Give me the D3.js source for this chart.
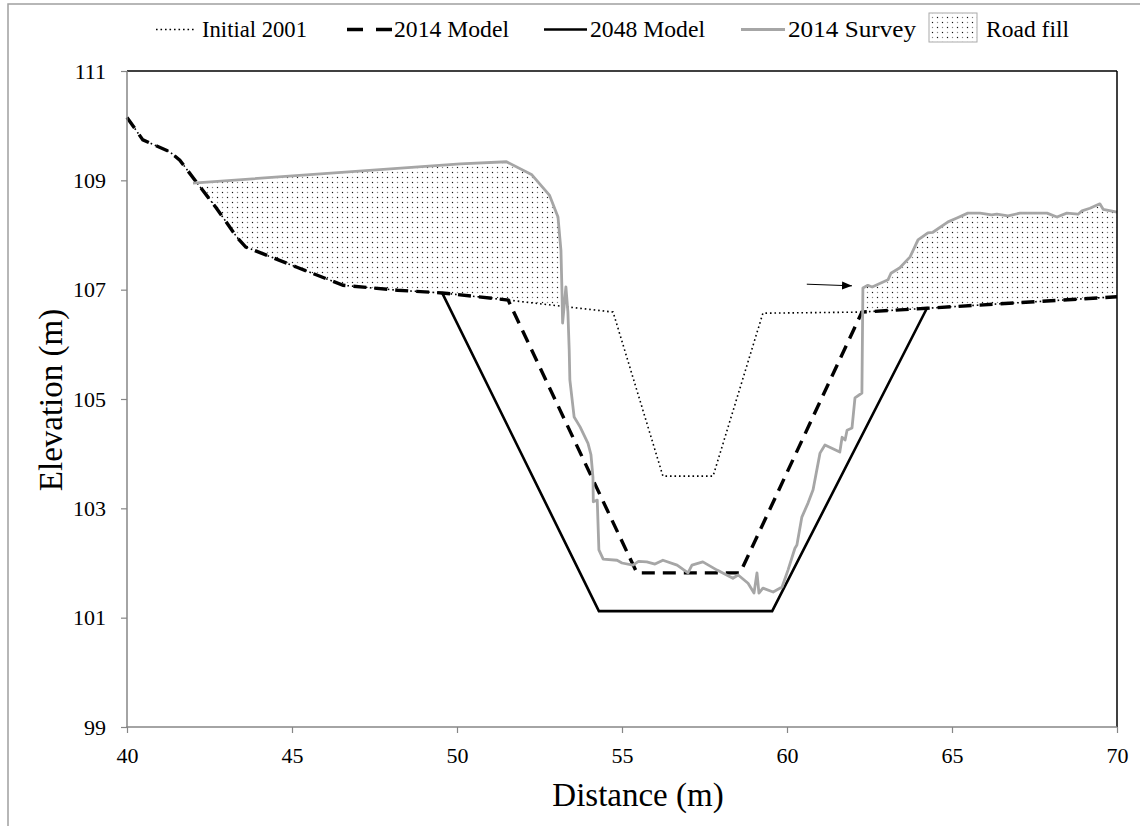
<!DOCTYPE html>
<html><head><meta charset="utf-8">
<script src="https://cdn.jsdelivr.net/npm/d3@7"></script>
<style>html,body{margin:0;padding:0;background:#fff}svg{display:block}</style>
</head><body>
<svg id="c" width="1140" height="826"></svg>
<script>
// ---------- data ----------
const xTicks = [40,45,50,55,60,65,70];
const yTicks = [99,101,103,105,107,109,111];
const legendLabels = ["Initial 2001","2014 Model","2048 Model","2014 Survey","Road fill"];

// Initial 2001 ground profile
const initX = [40,40.48,41.3,41.6,42.1,42.7,43.33,43.6,45.15,46.55,48.2,49.55,51.55,53.12,54.73,56.24,57.76,59.27,62.27,64.24,70];
const initY = [110.15,109.74,109.52,109.37,108.97,108.5,107.96,107.78,107.41,107.08,106.99,106.94,106.81,106.7,106.59,103.59,103.59,106.57,106.59,106.66,106.87];

// 2014 Model
const m14X = [40,40.48,41.3,41.6,42.1,42.7,43.33,43.6,45.15,46.55,48.2,49.55,51.55,55.45,58.58,62.27,64.24,70];
const m14Y = [110.15,109.74,109.52,109.37,108.97,108.5,107.96,107.78,107.41,107.08,106.99,106.94,106.81,101.82,101.82,106.59,106.66,106.87];

// 2048 Model
const m48X = [49.55,54.3,59.55,64.24];
const m48Y = [106.94,101.12,101.12,106.66];

// 2014 Survey
const svX = [42.0,50.1,51.5,52.27,52.8,53.06,53.15,53.18,53.2,53.3,53.36,53.4,53.42,53.55,53.73,53.97,54.06,54.12,54.13,54.25,54.3,54.43,54.85,55.0,55.33,55.5,55.75,56.0,56.24,56.67,57.0,57.12,57.45,57.88,58.36,58.52,58.82,59.0,59.09,59.15,59.27,59.58,59.85,60.03,60.24,60.3,60.45,60.64,60.79,61.0,61.15,61.6,61.67,61.76,61.82,61.97,62.06,62.27,62.3,62.45,62.58,63.06,63.15,63.42,63.73,63.97,64.27,64.42,64.88,65.15,65.48,65.85,66.2,66.36,66.7,67.06,67.88,68.18,68.48,68.82,68.94,69.18,69.48,69.58,70];
const svY = [108.95,109.3,109.34,109.1,108.73,108.33,107.72,106.99,106.39,107.05,106.6,105.9,105.35,104.67,104.49,104.19,103.98,103.57,103.12,103.15,102.24,102.07,102.05,102.0,101.96,102.03,102.02,101.98,102.05,101.96,101.82,101.96,102.02,101.87,101.72,101.78,101.63,101.45,101.82,101.45,101.54,101.47,101.56,101.87,102.27,102.33,102.84,103.1,103.34,104.01,104.16,104.03,104.3,104.25,104.43,104.47,105.02,105.11,107.03,107.08,107.05,107.18,107.3,107.4,107.6,107.91,108.04,108.05,108.24,108.31,108.4,108.4,108.37,108.38,108.35,108.4,108.4,108.33,108.4,108.38,108.44,108.49,108.57,108.47,108.42];

// road fill extents (distance ranges)
const fillRanges = [[42.0,53.18],[62.3,70]];
// annotation arrow (distance, elevation)
const arrowX = [60.6,61.97];
const arrowY = [107.1,107.07];

// ---------- chart ----------
const svg = d3.select("#c");
const x = d3.scaleLinear().domain([40,70]).range([127,1117]);
const y = d3.scaleLinear().domain([99,111]).range([727,71]);
const font = "'Liberation Serif','Times New Roman',serif";

// outer frame
svg.append("rect").attr("x",8).attr("y",4).attr("width",1200).attr("height",900)
  .attr("fill","none").attr("stroke","#a0a0a0").attr("stroke-width",1.5);

const defs = svg.append("defs");
const pat = defs.append("pattern").attr("id","dots").attr("patternUnits","userSpaceOnUse")
  .attr("width",10).attr("height",10);
[[2.5,2.5,"#111"],[7.5,7.5,"#111"],[7.5,2.5,"#888"],[2.5,7.5,"#888"]].forEach(d=>{
  pat.append("rect").attr("x",d[0]-0.6).attr("y",d[1]-0.6).attr("width",1.2).attr("height",1.2).attr("fill",d[2]);
});
defs.append("marker").attr("id","ah").attr("viewBox","0 0 10 10").attr("refX",10).attr("refY",5)
  .attr("markerWidth",10).attr("markerHeight",10).attr("markerUnits","userSpaceOnUse").attr("orient","auto")
  .append("path").attr("d","M0,1 L10,5 L0,9 Z").attr("fill","#000");

const zip = (xs,ys)=>xs.map((v,i)=>[v,ys[i]]);
const initPts = zip(initX,initY), m14Pts = zip(m14X,m14Y), m48Pts = zip(m48X,m48Y), svPts = zip(svX,svY);
const line = d3.line().x(d=>x(d[0])).y(d=>y(d[1]));
const groundAt = v => {
  const i = d3.bisectRight(initX, v);
  const j = Math.min(Math.max(i,1), initX.length-1);
  const x0=initX[j-1], x1=initX[j], y0=initY[j-1], y1=initY[j];
  return y0 + (y1-y0)*(v-x0)/(x1-x0);
};

// road fill polygons
fillRanges.forEach(([a,b])=>{
  const top = svPts.filter(p=>p[0]>=a && p[0]<=b);
  const bot = [[b,groundAt(b)]].concat(initPts.filter(p=>p[0]>a && p[0]<b).reverse(), [[a,groundAt(a)]]);
  svg.append("path").attr("d", line(top.concat(bot))+"Z").attr("fill","url(#dots)").attr("stroke","none");
});

const plot = svg.append("g");
plot.append("path").attr("d",line(initPts)).attr("fill","none").attr("stroke","#000")
  .attr("stroke-width",1.6).attr("stroke-dasharray","1.6,2.9");
plot.append("path").attr("d",line(m48Pts)).attr("fill","none").attr("stroke","#000").attr("stroke-width",2.6);
plot.append("path").attr("d",line(m14Pts)).attr("fill","none").attr("stroke","#000")
  .attr("stroke-width",3.4).attr("stroke-dasharray","13,8");
plot.append("path").attr("d",line(svPts)).attr("fill","none").attr("stroke","#a6a6a6")
  .attr("stroke-width",2.8).attr("stroke-linejoin","round");

// arrow
svg.append("line").attr("x1",x(arrowX[0])).attr("y1",y(arrowY[0])).attr("x2",x(arrowX[1])).attr("y2",y(arrowY[1]))
  .attr("stroke","#000").attr("stroke-width",1).attr("marker-end","url(#ah)");

// axes
const gx = svg.append("g").attr("transform","translate(0,727)")
  .call(d3.axisBottom(x).tickValues(xTicks).tickSize(6).tickPadding(14).tickSizeOuter(0));
const gy = svg.append("g").attr("transform","translate(127,0)")
  .call(d3.axisLeft(y).tickValues(yTicks).tickSize(6).tickPadding(15).tickSizeOuter(0));
[gx,gy].forEach(g=>{
  g.select(".domain").remove();
  g.selectAll(".tick line").attr("stroke","#868686").attr("stroke-width",1.2);
  g.selectAll("text").attr("font-family",font).attr("font-size",22).attr("fill","#000");
});
svg.append("line").attr("x1",127).attr("x2",1117).attr("y1",71).attr("y2",71).attr("stroke","#000").attr("stroke-width",1.5);
svg.append("line").attr("x1",1117).attr("x2",1117).attr("y1",71).attr("y2",727).attr("stroke","#000").attr("stroke-width",1.5);
svg.append("line").attr("x1",127).attr("x2",127).attr("y1",71).attr("y2",727.7).attr("stroke","#868686").attr("stroke-width",1.5);
svg.append("line").attr("x1",126.3).attr("x2",1117).attr("y1",727).attr("y2",727).attr("stroke","#868686").attr("stroke-width",1.5);

// axis titles
svg.append("text").attr("x",638).attr("y",806).attr("text-anchor","middle")
  .attr("font-family",font).attr("font-size",33).text("Distance (m)");
svg.append("text").attr("transform","translate(62,400) rotate(-90)").attr("text-anchor","middle")
  .attr("font-family",font).attr("font-size",33).text("Elevation (m)");

// legend
const lg = svg.append("g").attr("font-family",font).attr("font-size",23);
const ly = 29.5;
lg.append("line").attr("x1",156).attr("x2",196).attr("y1",ly).attr("y2",ly).attr("stroke","#000").attr("stroke-width",1.6).attr("stroke-dasharray","1.6,2.9");
lg.append("line").attr("x1",347).attr("x2",392).attr("y1",ly).attr("y2",ly).attr("stroke","#000").attr("stroke-width",3.4).attr("stroke-dasharray","16,13");
lg.append("line").attr("x1",544).attr("x2",587).attr("y1",ly).attr("y2",ly).attr("stroke","#000").attr("stroke-width",2.6);
lg.append("line").attr("x1",741).attr("x2",785).attr("y1",ly).attr("y2",ly).attr("stroke","#a6a6a6").attr("stroke-width",2.8);
lg.append("rect").attr("x",929).attr("y",13).attr("width",48).attr("height",29).attr("fill","url(#dots)").attr("stroke","#aaa").attr("stroke-width",1);
const lt = [202,394,590,788,986];
const lw = [105,115,115,128,83];
legendLabels.forEach((t,i)=>{
  lg.append("text").attr("x",lt[i]).attr("y",37)
    .attr("textLength",lw[i]).attr("lengthAdjust","spacingAndGlyphs").text(t);
});
</script>
</body></html>
